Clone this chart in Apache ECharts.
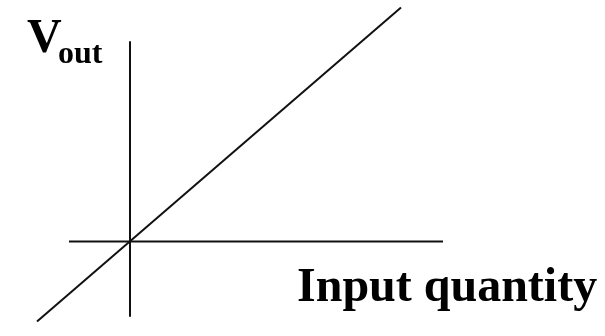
<!DOCTYPE html>
<html>
<head>
<meta charset="utf-8">
<script src="https://cdn.jsdelivr.net/npm/echarts@6/dist/echarts.min.js"></script>
<style>
  html, body { margin: 0; padding: 0; background: #fff; }
  #chart { width: 605px; height: 336px; }
</style>
</head>
<body>
<div id="chart"></div>
<script>
// transfer line: input quantity -> Vout (passes through origin)
const inputValues = [-0.93, 2.71];
const outputValues = [-0.80, 2.34];
// drawn extent of the horizontal (input) axis
const inputAxisSpan = [-0.61, 3.13];
// plot ranges
const xRange = [-0.93, 3.13];
const yRange = [-0.745, 1.995];

const mychart = echarts.init(document.getElementById('chart'));
const serif = '"Liberation Serif", "Times New Roman", serif';

const option = {
  backgroundColor: '#fff',
  animation: false,
  grid: {
    left: 37,
    top: 42,
    width: 406,
    height: 274
  },
  xAxis: {
    type: 'value',
    min: xRange[0],
    max: xRange[1],
    axisLine: { show: false },
    axisTick: { show: false },
    axisLabel: { show: false },
    splitLine: { show: false }
  },
  yAxis: {
    type: 'value',
    min: yRange[0],
    max: yRange[1],
    axisLine: { show: true, onZero: true, lineStyle: { color: '#111', width: 2 } },
    axisTick: { show: false },
    axisLabel: { show: false },
    splitLine: { show: false }
  },
  series: [
    {
      // input axis
      type: 'line',
      data: inputAxisSpan.map(x => [x, 0]),
      symbol: 'none',
      clip: false,
      lineStyle: { color: '#111', width: 2 }
    },
    {
      type: 'line',
      data: inputValues.map((x, i) => [x, outputValues[i]]),
      symbol: 'none',
      clip: false,
      lineStyle: { color: '#111', width: 2 }
    }
  ],
  graphic: [
    {
      type: 'text',
      x: 27,
      y: 16,
      style: {
        text: 'V',
        font: 'bold 48px ' + serif,
        fill: '#000',
        verticalAlign: 'top'
      }
    },
    {
      type: 'text',
      x: 58,
      y: 39,
      style: {
        text: 'out',
        font: 'bold 32px ' + serif,
        fill: '#000',
        verticalAlign: 'top'
      }
    },
    {
      type: 'text',
      x: 297,
      y: 265,
      style: {
        text: 'Input quantity',
        font: 'bold 48px ' + serif,
        fill: '#000',
        verticalAlign: 'top'
      }
    }
  ]
};
mychart.setOption(option);
</script>
</body>
</html>
